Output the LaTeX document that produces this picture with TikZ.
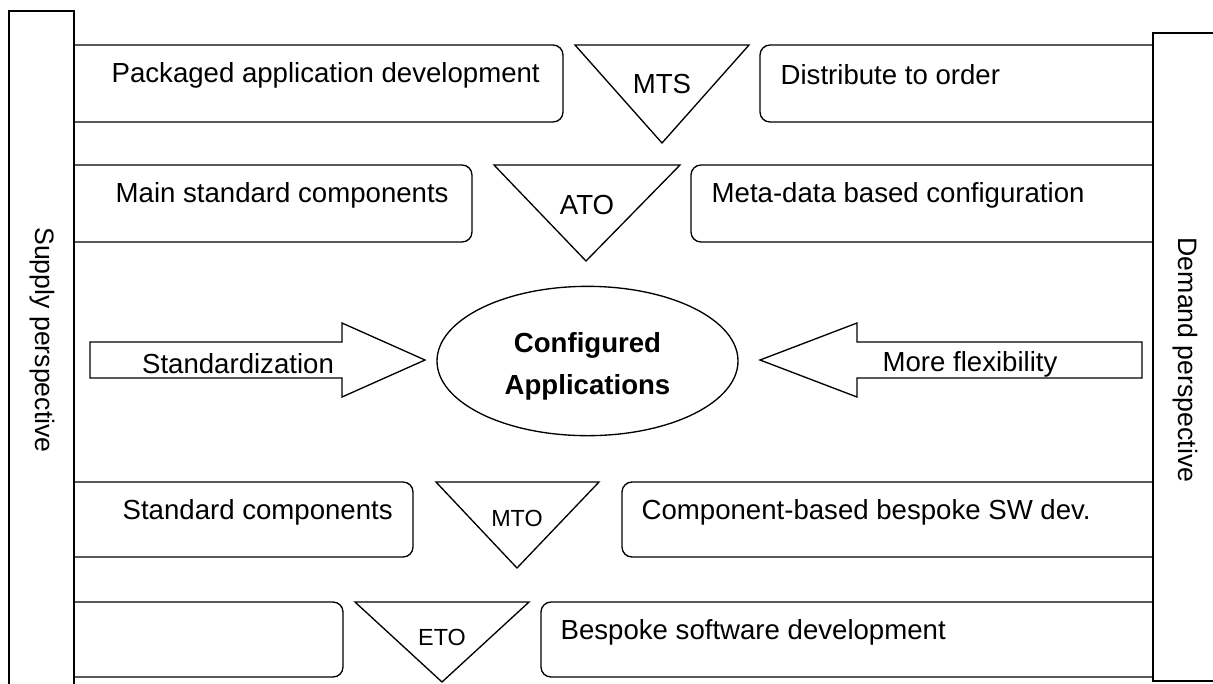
\documentclass[tikz,border=0pt]{standalone}
\usepackage{fontspec}
\setmainfont{Liberation Sans}
\usetikzlibrary{shapes.geometric}
\begin{document}
\begin{tikzpicture}[x=0.75pt,y=-0.75pt,
  line width=1pt, line join=miter,
  boxline/.style={draw=black, rounded corners=7.5pt},
  lbl/.style={anchor=west, inner sep=0pt, font=\fontsize{20.7}{24}\selectfont},
  tri/.style={draw=black},
  tlbl/.style={inner sep=0pt, font=\fontsize{20.7}{24}\selectfont},
  tlbls/.style={inner sep=0pt, font=\fontsize{17.5}{21}\selectfont},
  bigarrow/.style={draw=black},
  persp/.style={inner sep=0pt, rotate=-90, font=\fontsize{20}{24}\selectfont}]
\useasboundingbox (0,0) rectangle (1213,683);
\clip (0,0) rectangle (1213,683);
% side bars
\draw (9,700) -- (9,11) -- (74,11) -- (74,700);
\draw (1230,33) -- (1153,33) -- (1153,681) -- (1230,681);
\node[persp] (supply) at (42,340) {Supply perspective};
\node[persp] (demand) at (1185,360) {Demand perspective};
% row 1
\draw[boxline] (74,45) -- (563,45) -- (563,122) -- (74,122);
\draw[boxline] (1153,45) -- (760,45) -- (760,122) -- (1153,122);
\draw[tri] (575,45) -- (749,45) -- (662,143) -- cycle;
\node[lbl] (pad) at (111,75) {Packaged application development};
\node[lbl] (dto) at (780,75) {Distribute to order};
\node[tlbl] (mts) at (662,84) {MTS};
% row 2
\draw[boxline] (74,165) -- (472,165) -- (472,242) -- (74,242);
\draw[boxline] (1153,165) -- (691,165) -- (691,242) -- (1153,242);
\draw[tri] (494,165) -- (680,165) -- (586,261) -- cycle;
\node[lbl] (msc) at (115,195) {Main standard components};
\node[lbl] (mdc) at (711,195) {Meta-data based configuration};
\node[tlbl] (ato) at (587,205) {ATO};
% middle
\draw[bigarrow] (90,342) -- (342,342) -- (342,323) -- (425,360) -- (342,397) -- (342,378) -- (90,378) -- cycle;
\node[tlbl] (std) at (238,364) {Standardization};
\draw[bigarrow] (1142,342) -- (857,342) -- (857,323) -- (760,360) -- (857,397) -- (857,378) -- (1142,378) -- cycle;
\node[tlbl] (flex) at (970,364) {More flexibility};
\node[draw=black, ellipse, minimum width=225.75pt, minimum height=112pt, inner sep=0pt,
  align=center, font=\fontsize{20.7}{31.5}\selectfont\bfseries] (conf) at (587.5,361) {};
\node[align=center, inner sep=0pt, font=\fontsize{20.7}{31.5}\selectfont\bfseries] (conftext) at (587.5,366)
  {Configured\\Applications};
% row 3
\draw[boxline] (74,482) -- (413,482) -- (413,557) -- (74,557);
\draw[boxline] (1153,482) -- (622,482) -- (622,557) -- (1153,557);
\draw[tri] (436,482) -- (599,482) -- (517,568) -- cycle;
\node[lbl] (sc) at (122,512) {Standard components};
\node[lbl] (cbb) at (641,512) {Component-based bespoke SW dev.};
\node[tlbls] (mto) at (517,518) {MTO};
% row 4
\draw[boxline] (74,602) -- (343,602) -- (343,677) -- (74,677);
\draw[boxline] (1153,602) -- (541,602) -- (541,677) -- (1153,677);
\draw[tri] (355,602) -- (529,602) -- (442,682) -- cycle;
\node[lbl] (bsd) at (560,632) {Bespoke software development};
\node[tlbls] (eto) at (442,637) {ETO};
\end{tikzpicture}
\end{document}
